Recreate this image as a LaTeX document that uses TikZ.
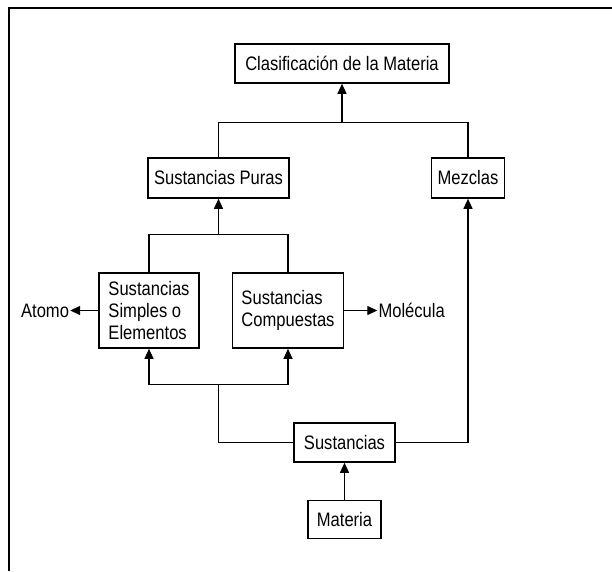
\documentclass[tikz,border=0pt]{standalone}
\usepackage{fontspec}
\setmainfont{Liberation Sans}[FakeStretch=0.85]
\usepackage{tikz}
\usetikzlibrary{arrows.meta,positioning}

\begin{document}
\begin{tikzpicture}[x=1pt, y=1pt, node distance = 37pt]
        \tikzstyle{component} = [rectangle, draw, line width = 1.6pt, align = left, font = \fontsize{19.5}{22}\selectfont, inner sep = 0pt]
        \tikzstyle{label} = [font = \fontsize{19.5}{22}\selectfont, inner sep = 1pt]
        \tikzstyle{conn} = [line width = 1.3pt]
        \tikzstyle{arrow} = [conn, -{Triangle[length = 10pt, width = 9pt]}]
        \useasboundingbox (0,0) rectangle (612,-571);
        % frame of the page
        \draw [line width = 2.6pt] (9,-571) -- (9,-8) -- (612,-8);
        \node at (342,-63.5) (clasif) [component, minimum width = 214, minimum height = 39] {Clasificación de la Materia};
        \node at (218.5,-178) (puras) [component, minimum width = 141, minimum height = 40] {Sustancias Puras};
        \node at (468,-178) (mezclas) [component, minimum width = 73, minimum height = 40] {Mezclas};
        \node at (149,-310.5) (simples) [component, minimum width = 100, minimum height = 75] {Sustancias\\Simples o\\Elementos};
        \node at (288,-310.5) (compuestas) [component, minimum width = 111, minimum height = 75] {Sustancias\\Compuestas};
        \node at (344.5,-442.5) (sustancias) [component, minimum width = 101, minimum height = 39] {Sustancias};
        \node (materia) [component, below = of sustancias, minimum width = 73, minimum height = 38] {Materia};
        \node (atomo) [label, left = 28pt of simples] {Atomo};
        \node (molecula) [label, right = 33pt of compuestas] {Molécula};
        \draw [conn] (puras.north) -- ++(0,35) coordinate (c1) -- (c1 -| mezclas) -- (mezclas.north);
        \draw [arrow] (clasif.south |- c1) -- (clasif.south);
        \draw [conn] (simples.north) -- ++(0,38) coordinate (c2) -- (c2 -| compuestas) -- (compuestas.north);
        \draw [arrow] (puras.south |- c2) -- (puras.south);
        \draw [conn] (simples.south) ++(0,-36) coordinate (c3) -- (c3 -| compuestas);
        \draw [arrow] (c3) -- (simples.south);
        \draw [arrow] (c3 -| compuestas) -- (compuestas.south);
        \draw [conn] (sustancias.west) -| (c3 -| puras);
        \draw [arrow] (sustancias.east) -| (mezclas.south);
        \draw [arrow] (materia) -- (sustancias);
        \draw [arrow] (simples) -- (atomo);
        \draw [arrow] (compuestas) -- (molecula.west);
    \end{tikzpicture}
\end{document}
